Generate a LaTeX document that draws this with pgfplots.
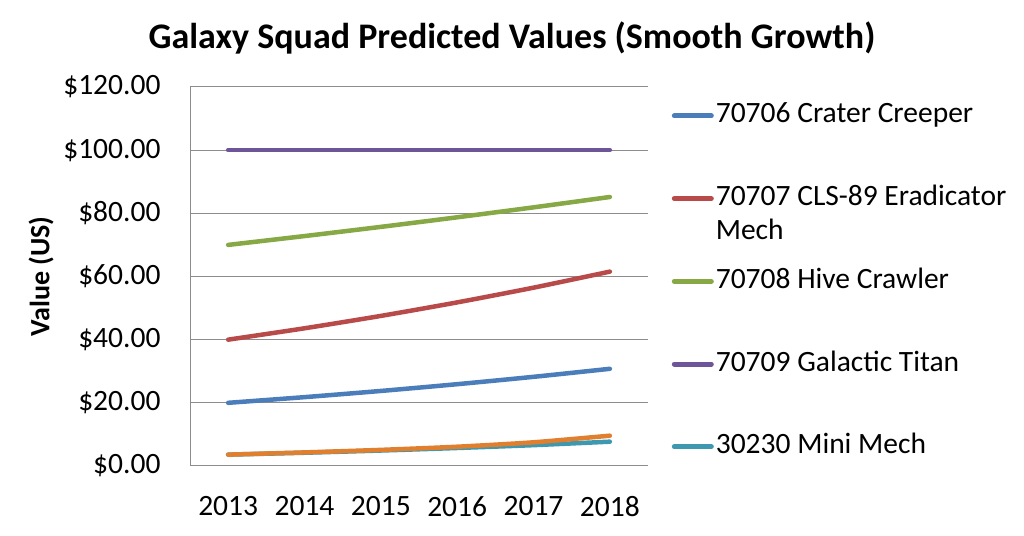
\documentclass[border=0pt]{standalone}
\usepackage{pgfplots}
\pgfplotsset{compat=1.18}
\usepackage{fontspec}
\setmainfont{Carlito}
\definecolor{cblue}{HTML}{4A7DBA}
\definecolor{cred}{HTML}{B84A4A}
\definecolor{cgreen}{HTML}{86A845}
\definecolor{cpurple}{HTML}{6E5499}
\definecolor{cteal}{HTML}{3D98B0}
\definecolor{corange}{HTML}{E0802F}
\definecolor{gridc}{HTML}{8C8C8C}
\begin{document}
\begin{tikzpicture}[x=1bp,y=1bp]
\useasboundingbox (0,0) rectangle (1024,536);
\begin{axis}[
  at={(190bp,70bp)}, anchor=south west,
  scale only axis, width=458bp, height=379bp,
  xmin=2012.5, xmax=2018.5, ymin=0, ymax=120,
  xtick={2013,2014,2015,2016,2017,2018},
  xticklabels={2013,2014,2015,2016,2017,2018},
  ytick={0,20,40,60,80,100,120},
  yticklabel={\$\pgfmathprintnumber[fixed,fixed zerofill,precision=2]{\tick}},
  /pgf/number format/assume math mode=true,
  ticklabel style={font=\fontsize{29.5bp}{34bp}\selectfont},
  major tick length=0pt,
  ymajorgrids, grid style={gridc, line width=1bp},
  axis x line*=bottom, axis y line*=left,
  axis line style={gridc, line width=1bp, -},
  yticklabel style={xshift=-26bp},
  xticklabel style={yshift=-27bp},
  ylabel={\fontsize{28bp}{32bp}\selectfont\bfseries Value (US)},
  ylabel style={at={(axis description cs:-0.325,0.5)}, anchor=center},
  legend cell align=left,
  legend style={draw=none, fill=none, inner sep=0pt, outer sep=0pt,
    at={(axis description cs:1.052,0.958)}, anchor=north west,
    font=\fontsize{29.5bp}{34bp}\selectfont, row sep=56.7bp,
    nodes={text height=20bp, text depth=6bp, inner ysep=0pt, inner xsep=2bp}},
  legend image code/.code={\draw[#1, line width=5bp] (0bp,0bp) -- (37bp,0bp);},
  every axis plot/.append style={line width=4.5bp, line cap=round, line join=round, smooth, tension=0.4},
]
\addplot[cblue] coordinates {(2013,20) (2014,21.8) (2015,23.76) (2016,25.9) (2017,28.23) (2018,30.77)};
\addlegendentry{70706 Crater Creeper}
\addplot[cred] coordinates {(2013,40) (2014,43.6) (2015,47.52) (2016,51.8) (2017,56.46) (2018,61.54)};
\addlegendentry{\raisebox{0pt}[\height][0pt]{\parbox[t]{300bp}{70707 CLS-89 Eradicator\\[-0.5bp]Mech}}}
\addplot[cgreen] coordinates {(2013,70) (2014,72.8) (2015,75.71) (2016,78.74) (2017,81.89) (2018,85.17)};
\addlegendentry{70708 Hive Crawler}
\addplot[cpurple] coordinates {(2013,100) (2014,100) (2015,100) (2016,100) (2017,100) (2018,100)};
\addlegendentry{70709 Galactic Titan}
\addplot[cteal] coordinates {(2013,3.6) (2014,4.2) (2015,4.9) (2016,5.7) (2017,6.6) (2018,7.7)};
\addlegendentry{30230 Mini Mech}
\addplot[corange, forget plot] coordinates {(2013,3.6) (2014,4.3) (2015,5.1) (2016,6.1) (2017,7.5) (2018,9.6)};
\end{axis}
\node[font=\fontsize{36bp}{42bp}\selectfont\bfseries, anchor=center] at (512,498) {Galaxy Squad Predicted Values (Smooth Growth)};
\end{tikzpicture}
\end{document}
